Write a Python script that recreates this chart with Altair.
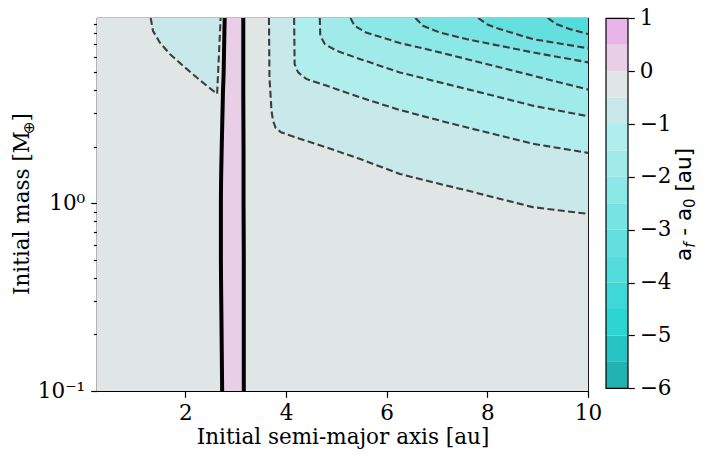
import altair as alt
import pandas as pd

# ---- axis ranges and ticks (data units) ----
X_RANGE = [0.243, 10.0]
Y_RANGE = [0.1, 9.66]
X_TICKS = [2, 4, 6, 8, 10]
Y_TICKS = [0.1, 0.2, 0.3, 0.4, 0.5, 0.6, 0.7, 0.8, 0.9,
           1.0, 2.0, 3.0, 4.0, 5.0, 6.0, 7.0, 8.0, 9.0]
Y_MAJOR_LABELS = {"0.1": "10\u207b\u00b9", "1": "10\u2070"}

# ---- colour bar levels (a_f - a_0) ----
LEVELS = [-6.0, -5.5, -5.0, -4.5, -4.0, -3.5, -3.0, -2.5, -2.0, -1.5,
          -1.0, -0.5, 0.0, 0.5, 1.0]
CB_TICKS = [-6, -5, -4, -3, -2, -1, 0, 1]
BAND_COLORS = ["#22b2b2", "#27c3c3", "#2cd4d4", "#3fd8d8", "#52dcdc",
               "#64dfdf", "#78e3e3", "#8ce7e7", "#a0eaea", "#b0eeee",
               "#c8e8e9", "#e0e6e5", "#e8cfe5", "#e9b5e9"]

# ---- dashed contours: (a [au], M [M_earth]) ----
# left island, level -0.5
CL05_A = [1.31, 1.355, 1.49, 1.69, 1.95, 2.22, 2.42, 2.63, 2.70]
CL05_M = [9.66, 8.26, 7.16, 6.21, 5.39, 4.67, 4.22, 3.81, 9.66]
# right family
C05_A = [3.66, 3.67, 3.71, 3.74, 3.79, 3.90, 4.27, 4.80, 5.46, 6.26, 6.92, 7.58, 8.24, 8.90, 10.0]
C05_M = [9.66, 4.67, 3.11, 2.75, 2.52, 2.38, 2.20, 1.98, 1.72, 1.43, 1.29, 1.17, 1.055, 0.952, 0.876]
C10_A = [4.16, 4.17, 4.24, 4.40, 4.80, 5.46, 6.26, 6.92, 7.58, 8.24, 8.90, 10.0]
C10_M = [9.66, 5.50, 4.96, 4.58, 4.22, 3.66, 3.13, 2.81, 2.53, 2.29, 2.07, 1.85]
C15_A = [4.67, 4.68, 4.77, 5.00, 5.46, 6.26, 6.92, 7.58, 8.24, 8.90, 10.0]
C15_M = [9.66, 7.77, 7.02, 6.47, 5.85, 4.96, 4.48, 4.05, 3.66, 3.30, 2.90]
C20_A = [5.28, 5.36, 5.59, 6.26, 6.92, 7.58, 8.24, 8.90, 10.0]
C20_M = [9.66, 8.78, 8.09, 7.11, 6.47, 5.85, 5.28, 4.77, 4.02]
C25_A = [6.57, 6.72, 7.05, 7.58, 8.24, 8.90, 10.0]
C25_M = [9.66, 8.78, 8.09, 7.46, 6.88, 6.34, 5.61]
C30_A = [7.82, 7.98, 8.24, 8.90, 10.0]
C30_M = [9.66, 8.97, 8.44, 7.46, 6.67]
C35_A = [9.20, 9.37, 9.63, 10.0]
C35_M = [9.66, 8.97, 8.44, 7.94]

# ---- solid zero contours (the two black lines) ----
ZERO_M = [9.66, 5.0, 3.8, 1.9, 1.03, 0.5, 0.3, 0.1]
ZERO_LEFT_A = [2.78, 2.76, 2.745, 2.72, 2.705, 2.705, 2.712, 2.73]
ZERO_RIGHT_A = [3.15, 3.15, 3.15, 3.155, 3.155, 3.16, 3.16, 3.16]

CONTOURS = [  # (level, a, m) ; drawn outer first
    (-0.5, C05_A, C05_M), (-1.0, C10_A, C10_M), (-1.5, C15_A, C15_M),
    (-2.0, C20_A, C20_M), (-2.5, C25_A, C25_M), (-3.0, C30_A, C30_M),
    (-3.5, C35_A, C35_M), (-0.5, CL05_A, CL05_M),
]


def band_color(lo):
    return BAND_COLORS[LEVELS.index(lo)]


SERIF = "DejaVu Serif"
SANS = "DejaVu Sans"
FS = 21.5
SUB = 15
NB = "\u00a0"
H = 373

xscale = alt.Scale(domain=X_RANGE, nice=False, zero=False)
yscale = alt.Scale(type="log", domain=Y_RANGE, nice=False)
xaxis = alt.Axis(values=X_TICKS, format="d", title="Initial semi-major axis [au]",
                 tickSize=6.3, labelPadding=5, titlePadding=3, labelFlush=False,
                 labelOverlap=False)
label_expr = ("datum.value == 1 ? '%s' : (datum.value == 0.1 ? '%s' : '')"
              % (Y_MAJOR_LABELS["1"], Y_MAJOR_LABELS["0.1"]))
yaxis = alt.Axis(values=Y_TICKS, labelExpr=label_expr, title=None,
                 tickSize={"condition": {"test": "datum.value == 1 || datum.value == 0.1",
                                         "value": 6.3}, "value": 3.6},
                 labelPadding=6, labelFlush=False, labelOverlap=False)


def X(f):
    return alt.X(f, type="quantitative", scale=xscale, axis=xaxis)


def Y(f):
    return alt.Y(f, type="quantitative", scale=yscale, axis=yaxis, stack=None)


# background (band -0.5..0)
bg_df = pd.DataFrame({"a0": [X_RANGE[0]], "a1": [X_RANGE[1]],
                      "m0": [Y_RANGE[0]], "m1": [Y_RANGE[1]]})
layers = [alt.Chart(bg_df).mark_rect(color=band_color(-0.5)).encode(
    x=X("a0"), x2="a1", y=Y("m0"), y2="m1")]

# filled regions above each contour
for lvl, a, m in CONTOURS:
    df = pd.DataFrame({"a": a, "m": m})
    layers.append(alt.Chart(df).mark_area(color=band_color(lvl - 0.5), opacity=1,
                                          orient="vertical", clip=True).encode(
        x=X("a"), y=Y("m"), y2=alt.datum(Y_RANGE[1])))

# pink band between zero contours (band 0..0.5)
zdf = pd.DataFrame({"m": ZERO_M, "l": ZERO_LEFT_A, "r": ZERO_RIGHT_A})
layers.append(alt.Chart(zdf).mark_area(color=band_color(0.0), opacity=1,
                                       orient="horizontal", clip=True).encode(
    y=Y("m"), x=X("l"), x2="r"))

# dashed contour lines
rows = []
for i, (lvl, a, m) in enumerate(CONTOURS):
    for k, (aa, mm) in enumerate(zip(a, m)):
        rows.append({"id": i, "k": k, "a": aa, "m": mm})
cdf = pd.DataFrame(rows)
layers.append(alt.Chart(cdf).mark_line(color="#3d3d3d", strokeWidth=2.1,
                                       strokeDash=[7, 3.4], clip=True).encode(
    x=X("a"), y=Y("m"), detail="id:N", order="k:Q"))

# black zero lines
zl = pd.concat([
    pd.DataFrame({"id": 0, "k": list(range(len(ZERO_M))), "a": ZERO_LEFT_A, "m": ZERO_M}),
    pd.DataFrame({"id": 1, "k": list(range(len(ZERO_M))), "a": ZERO_RIGHT_A, "m": ZERO_M}),
])
layers.append(alt.Chart(zl).mark_line(color="black", strokeWidth=4, clip=True,
                                      interpolate="monotone").encode(
    x=X("a"), y=Y("m"), detail="id:N", order="k:Q"))

# rotated title pieces (reading upward)
dummy = pd.DataFrame({"d": [0]})


def rot_text(txt, font, size, ypos, xpos, style="normal"):
    return alt.Chart(dummy).mark_text(
        text=txt, font=font, fontSize=size, fontStyle=style, angle=270,
        align="left", baseline="alphabetic", color="black").encode(
        x=alt.value(xpos), y=alt.value(ypos))


yt_w1 = 7.488 * FS
yt_w2 = 0.838 * SUB
yt_start = 186 + (yt_w1 + yt_w2 + 0.39 * FS) / 2
layers.append(rot_text("Initial" + NB + "mass" + NB + "[M", SERIF, FS, yt_start, -68))
layers.append(rot_text("\u2295", SANS, SUB, yt_start - yt_w1, -63))
layers.append(rot_text("]", SERIF, FS, yt_start - yt_w1 - yt_w2, -68))

main = alt.layer(*layers)

# ---- colour bar ----
cbscale = alt.Scale(domain=[-6.051, 1.0057], nice=False, zero=False)
cbaxis = alt.Axis(orient="right", offset=40, values=CB_TICKS, format="d",
                  tickSize=6.3, labelPadding=5, title=None, labelFlush=False,
                  labelOverlap=False)
bands = pd.DataFrame({"lo": LEVELS[:-1], "hi": LEVELS[1:],
                      "band": list(range(len(LEVELS) - 1))})
cb = alt.Chart(bands).mark_rect().encode(
    x=alt.value(509), x2=alt.value(531),
    y=alt.Y("lo:Q", scale=cbscale, axis=cbaxis), y2="hi",
    color=alt.Color("band:O", scale=alt.Scale(domain=list(range(len(BAND_COLORS))),
                                              range=BAND_COLORS), legend=None))
border = alt.Chart(pd.DataFrame({"lo": [LEVELS[0]], "hi": [LEVELS[-1]]})).mark_rect(
    fillOpacity=0, stroke="black", strokeWidth=1.2).encode(
    x=alt.value(509), x2=alt.value(531),
    y=alt.Y("lo:Q", scale=cbscale, axis=cbaxis), y2="hi")

# colour-bar label pieces: a_f - a_0 [au]  (widths in em of DejaVu Sans)
cx = 594
sp = 0.318 * FS
y_a1 = 243
y_f = y_a1 - 0.613 * FS
y_dash = y_f - 0.352 * SUB - sp
y_a2 = y_dash - 0.361 * FS - sp
y_0 = y_a2 - 0.613 * FS
y_au = y_0 - 0.636 * SUB - sp
cblabel = [
    rot_text("a", SANS, FS, y_a1, cx),
    rot_text("f", SANS, SUB, y_f, cx + 3.5, "italic"),
    rot_text("-", SANS, FS, y_dash, cx),
    rot_text("a", SANS, FS, y_a2, cx),
    rot_text("0", SANS, SUB, y_0, cx + 3.5),
    rot_text("[au]", SANS, FS, y_au, cx),
]

cbar = alt.layer(cb, border, *cblabel)

chart = alt.layer(main, cbar).resolve_scale(
    y="independent", color="independent"
).properties(
    width=491, height=H,
    autosize=alt.AutoSizeParams(type="none"),
    padding={"left": 89, "top": 10, "right": 110, "bottom": 59},
).configure_view(
    stroke="black", strokeWidth=1.2
).configure_axis(
    labelFont=SERIF, labelFontSize=FS, labelColor="black",
    titleFont=SERIF, titleFontSize=FS, titleFontWeight="normal", titleColor="black",
    tickColor="black", tickWidth=1.2, grid=False, domain=False,
)

chart.save("out.html", embed_options={"renderer": "svg", "actions": False})
